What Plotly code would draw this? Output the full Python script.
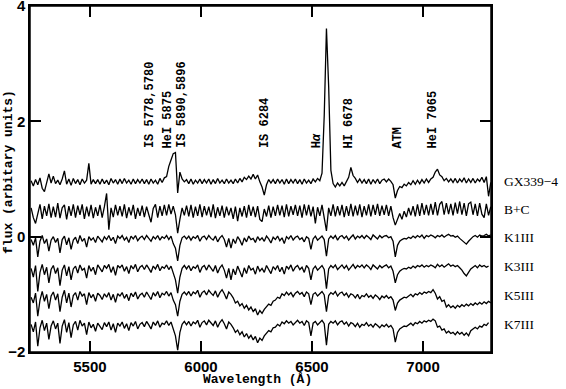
import numpy as np
import plotly.graph_objects as go

# Wavelength grid (Angstrom): 5235, 5245, ... sampled every 10 A
WL_START = 5235
WL_STEP = 10
N_POINTS = 208

GX339_4 = [
    0.97, 0.88, 0.99, 0.90, 1.02, 0.84, 0.78, 0.95, 1.09, 0.93,
    1.05, 0.92, 0.98, 0.90, 1.00, 1.14, 0.91, 1.00, 0.89, 1.01,
    0.92, 0.99, 0.90, 1.00, 0.93, 0.98, 1.27, 0.91, 0.99, 0.92,
    0.99, 0.91, 1.00, 0.92, 0.98, 0.90, 1.01, 0.93, 0.99, 0.91,
    1.00, 0.92, 1.01, 0.93, 0.98, 0.91, 1.00, 0.92, 0.99, 0.93,
    1.00, 0.92, 0.99, 0.91, 1.00, 0.93, 0.98, 0.91, 1.01, 0.94,
    1.02, 1.04, 1.22, 1.33, 1.44, 1.46, 0.76, 1.12, 1.00, 0.95,
    0.99, 0.92, 1.00, 0.91, 0.98, 0.93, 1.00, 0.92, 0.99, 0.93,
    1.00, 0.91, 0.99, 0.92, 1.01, 0.93, 0.98, 0.92, 1.00, 0.93,
    0.98, 0.92, 1.00, 0.93, 1.01, 0.95, 1.03, 0.99, 1.05, 1.00,
    1.08, 1.00, 1.07, 0.95, 0.86, 0.72, 0.90, 0.99, 0.93, 0.99,
    0.92, 1.00, 0.93, 0.99, 0.91, 1.00, 0.92, 0.99, 0.93, 1.00,
    0.92, 0.99, 0.91, 1.00, 0.93, 0.98, 0.92, 1.00, 0.95, 1.01,
    0.97, 1.10, 2.10, 3.61, 2.60, 1.15, 0.92, 0.86, 0.93, 0.88,
    0.94, 0.88, 0.95, 1.03, 1.20, 1.06, 1.01, 0.94, 1.00, 0.93,
    0.99, 0.92, 1.00, 0.91, 0.99, 0.93, 1.00, 0.92, 0.98, 1.00,
    0.95, 1.00, 0.96, 0.90, 0.67, 0.80, 0.87, 0.85, 0.91, 0.88,
    0.94, 0.90, 0.97, 0.91, 0.98, 0.92, 0.99, 0.93, 1.00, 0.94,
    1.00, 1.03, 1.12, 1.17, 1.07, 1.04, 0.97, 1.01, 0.95, 1.00,
    0.94, 1.01, 0.93, 1.00, 0.95, 1.02, 0.93, 1.00, 0.94, 1.01,
    0.93, 1.00, 0.96, 1.03, 0.94, 1.04, 0.70, 0.94,
]

B_PLUS_C = [
    0.50, 0.33, 0.23, 0.42, 0.56, 0.31, 0.53, 0.36, 0.57, 0.33,
    0.52, 0.34, 0.58, 0.32, 0.50, 0.55, 0.30, 0.53, 0.36, 0.56,
    0.33, 0.54, 0.38, 0.56, 0.31, 0.52, 0.35, 0.55, 0.32, 0.51,
    0.36, 0.55, 0.33, 0.52, 0.75, 0.12, 0.50, 0.34, 0.55, 0.37,
    0.53, 0.35, 0.56, 0.32, 0.51, 0.37, 0.55, 0.31, 0.50, 0.36,
    0.54, 0.34, 0.52, 0.38, 0.25, 0.49, 0.56, 0.33, 0.53, 0.36,
    0.55, 0.37, 0.56, 0.39, 0.53, 0.38, 0.06, 0.30, 0.50, 0.37,
    0.54, 0.35, 0.55, 0.33, 0.52, 0.36, 0.56, 0.34, 0.53, 0.37,
    0.52, 0.34, 0.56, 0.32, 0.51, 0.36, 0.54, 0.33, 0.52, 0.37,
    0.50, 0.31, 0.52, 0.27, 0.50, 0.35, 0.53, 0.33, 0.55, 0.36,
    0.52, 0.34, 0.53, 0.30, 0.26, 0.48, 0.35, 0.54, 0.33, 0.52,
    0.36, 0.55, 0.37, 0.54, 0.34, 0.56, 0.35, 0.53, 0.38, 0.55,
    0.36, 0.54, 0.33, 0.56, 0.37, 0.55, 0.35, 0.52, 0.23, 0.51,
    0.36, 0.55, 0.34, 0.10, 0.50, 0.36, 0.56, 0.35, 0.53, 0.37,
    0.55, 0.34, 0.53, 0.36, 0.57, 0.35, 0.54, 0.37, 0.56, 0.34,
    0.53, 0.37, 0.56, 0.35, 0.55, 0.38, 0.57, 0.36, 0.54, 0.38,
    0.55, 0.36, 0.53, 0.33, 0.20, 0.32, 0.40, 0.30, 0.44, 0.34,
    0.50, 0.37, 0.53, 0.35, 0.56, 0.36, 0.58, 0.38, 0.55, 0.37,
    0.57, 0.38, 0.60, 0.37, 0.56, 0.61, 0.38, 0.58, 0.39, 0.57,
    0.37, 0.59, 0.40, 0.61, 0.38, 0.58, 0.36, 0.57, 0.60, 0.38,
    0.57, 0.36, 0.58, 0.39, 0.33, 0.57, 0.37, 0.52,
]

K1III = [
    -0.05, -0.15, -0.02, -0.35, -0.08, 0.02, -0.12, -0.04, -0.25, -0.06,
    0.00, -0.10, -0.03, -0.28, -0.05, 0.01, -0.14, -0.02, -0.22, -0.06,
    -0.01, -0.12, 0.02, -0.08, -0.03, -0.18, 0.00, -0.06, -0.02, -0.10,
    0.01, -0.04, -0.09, 0.00, -0.05, 0.02, -0.07, -0.01, -0.12, 0.01,
    -0.03, 0.02, -0.06, -0.01, -0.10, 0.01, -0.04, 0.02, -0.07, -0.02,
    0.01, -0.05, 0.02, -0.03, -0.08, 0.00, -0.04, 0.02, -0.06, 0.00,
    -0.03, 0.02, -0.05, 0.01, -0.12, -0.20, -0.42, -0.15, -0.02, 0.01,
    -0.04, 0.01, -0.06, 0.00, -0.03, 0.02, -0.08, -0.01, 0.01, -0.05,
    0.02, -0.03, -0.06, 0.01, -0.09, -0.02, 0.02, -0.05, -0.18, -0.03,
    -0.20, -0.04, -0.12, 0.00, -0.06, -0.15, -0.02, -0.09, 0.01, -0.05,
    -0.03, -0.10, 0.00, -0.06, -0.02, -0.08, 0.01, -0.04, -0.11, -0.01,
    -0.05, 0.01, -0.07, -0.02, -0.12, 0.00, -0.04, 0.02, -0.06, -0.01,
    0.01, -0.05, -0.02, -0.09, 0.00, -0.03, -0.22, -0.04, 0.01, -0.06,
    -0.02, 0.01, -0.05, -0.34, -0.04, 0.01, -0.03, 0.02, -0.06, 0.00,
    0.02, -0.03, 0.01, -0.06, -0.01, 0.03, -0.04, 0.01, -0.02, 0.02,
    -0.03, 0.02, -0.01, -0.05, 0.03, 0.00, -0.04, 0.02, -0.02, 0.01,
    0.02, -0.02, 0.00, -0.08, -0.35, -0.15, -0.08, -0.05, -0.03, -0.04,
    -0.01, -0.03, 0.01, -0.02, 0.02, -0.01, 0.03, -0.03, 0.02, 0.00,
    0.03, 0.01, -0.02, 0.02, 0.00, 0.03, -0.01, 0.02, 0.04, 0.01,
    0.02, -0.01, 0.01, -0.03, -0.06, -0.10, -0.13, -0.08, -0.04, 0.00,
    0.02, -0.01, 0.03, 0.01, 0.02, 0.04, 0.01, 0.03,
]

K3III = [
    -0.55, -0.70, -0.50, -0.95, -0.62, -0.48, -0.66, -0.53, -0.80, -0.57,
    -0.50, -0.64, -0.54, -0.85, -0.58, -0.49, -0.68, -0.52, -0.75, -0.56,
    -0.51, -0.63, -0.49, -0.58, -0.55, -0.72, -0.50, -0.60, -0.53, -0.66,
    -0.49, -0.56, -0.61, -0.50, -0.55, -0.48, -0.62, -0.52, -0.67, -0.50,
    -0.54, -0.49, -0.60, -0.52, -0.64, -0.50, -0.56, -0.48, -0.61, -0.53,
    -0.50, -0.57, -0.49, -0.55, -0.62, -0.51, -0.56, -0.48, -0.59, -0.52,
    -0.55, -0.49, -0.57, -0.51, -0.64, -0.75, -0.98, -0.70, -0.55, -0.50,
    -0.56, -0.50, -0.59, -0.52, -0.55, -0.49, -0.62, -0.53, -0.50, -0.58,
    -0.49, -0.55, -0.60, -0.50, -0.63, -0.54, -0.49, -0.58, -0.72, -0.55,
    -0.75, -0.56, -0.66, -0.51, -0.60, -0.70, -0.54, -0.64, -0.50, -0.58,
    -0.55, -0.65, -0.51, -0.60, -0.55, -0.62, -0.50, -0.57, -0.64, -0.52,
    -0.57, -0.50, -0.61, -0.53, -0.65, -0.51, -0.56, -0.49, -0.60, -0.53,
    -0.50, -0.57, -0.53, -0.62, -0.50, -0.55, -0.75, -0.56, -0.51, -0.58,
    -0.54, -0.50, -0.57, -0.90, -0.56, -0.50, -0.54, -0.49, -0.57, -0.52,
    -0.49, -0.55, -0.50, -0.58, -0.52, -0.48, -0.55, -0.50, -0.53, -0.49,
    -0.54, -0.49, -0.52, -0.57, -0.49, -0.52, -0.56, -0.50, -0.54, -0.51,
    -0.49, -0.54, -0.51, -0.60, -0.80, -0.66, -0.60, -0.57, -0.55, -0.56,
    -0.53, -0.55, -0.51, -0.54, -0.50, -0.52, -0.49, -0.53, -0.50, -0.52,
    -0.49, -0.51, -0.54, -0.48, -0.52, -0.49, -0.53, -0.50, -0.47, -0.51,
    -0.49, -0.52, -0.50, -0.54, -0.58, -0.64, -0.68, -0.62, -0.56, -0.53,
    -0.50, -0.54, -0.49, -0.52, -0.50, -0.53, -0.51,
]

K5III = [
    -1.05, -1.15, -0.98, -1.38, -1.10, -0.95, -1.12, -1.00, -1.25, -1.03,
    -0.96, -1.10, -0.99, -1.30, -1.05, -0.93, -1.15, -0.98, -1.22, -1.02,
    -0.97, -1.10, -0.95, -1.03, -0.99, -1.18, -0.97, -1.06, -1.00, -1.12,
    -0.98, -1.02, -1.09, -0.99, -1.05, -0.97, -1.10, -1.00, -1.14, -0.99,
    -1.03, -0.97, -1.07, -1.00, -1.11, -0.98, -1.04, -0.96, -1.08, -1.01,
    -0.98, -1.05, -0.96, -1.02, -1.09, -0.97, -1.03, -0.95, -1.06, -0.98,
    -1.01, -0.95, -1.03, -0.97, -1.10, -1.18, -1.38, -1.12, -1.00, -0.96,
    -1.01, -0.95, -1.03, -0.96, -0.99, -0.93, -1.05, -0.97, -0.94, -1.01,
    -0.93, -0.98, -1.02, -0.94, -1.05, -0.97, -0.92, -0.99, -1.08, -0.96,
    -1.00, -1.06, -1.15, -1.12, -1.20, -1.16, -1.24, -1.19, -1.27, -1.22,
    -1.30, -1.25, -1.36, -1.28, -1.33, -1.26, -1.22, -1.17, -1.19, -1.12,
    -1.10, -1.05, -1.07, -0.99, -1.02, -0.96, -1.01, -0.97, -1.04, -0.98,
    -0.95, -1.00, -0.97, -1.04, -0.96, -0.99, -1.18, -1.00, -0.97, -1.03,
    -0.99, -0.95, -1.01, -1.30, -1.02, -0.97, -1.00, -0.95, -1.03, -0.98,
    -0.96, -1.02, -0.98, -1.05, -0.99, -1.01, -1.06, -1.00, -1.08, -1.02,
    -1.04, -0.99, -1.05, -1.02, -1.07, -1.01, -1.04, -1.09, -1.03, -1.06,
    -1.02, -1.07, -1.04, -1.10, -1.28, -1.15, -1.10, -1.08, -1.05, -1.06,
    -1.03, -1.00, -1.04, -0.99, -1.01, -0.97, -1.00, -0.96, -0.98, -0.95,
    -0.97, -0.92, -0.98, -1.08, -1.04, -1.12, -1.10, -1.22, -1.18, -1.23,
    -1.20, -1.24, -1.19, -1.22, -1.18, -1.21, -1.17, -1.20, -1.16, -1.19,
    -1.15, -1.18, -1.14, -1.17, -1.13, -1.16, -1.12, -1.15,
]

K7III = [
    -1.52, -1.65, -1.48, -1.90, -1.58, -1.45, -1.63, -1.50, -1.78, -1.55,
    -1.46, -1.60, -1.50, -1.85, -1.55, -1.44, -1.66, -1.49, -1.75, -1.53,
    -1.47, -1.62, -1.45, -1.55, -1.50, -1.70, -1.48, -1.58, -1.52, -1.64,
    -1.50, -1.55, -1.61, -1.49, -1.56, -1.48, -1.62, -1.51, -1.66, -1.50,
    -1.55, -1.48, -1.59, -1.51, -1.63, -1.49, -1.55, -1.47, -1.60, -1.52,
    -1.49, -1.56, -1.47, -1.53, -1.60, -1.48, -1.54, -1.46, -1.57, -1.50,
    -1.52, -1.46, -1.54, -1.48, -1.62, -1.72, -1.97, -1.66, -1.52, -1.47,
    -1.53, -1.47, -1.55, -1.48, -1.51, -1.45, -1.57, -1.49, -1.46, -1.53,
    -1.45, -1.50, -1.54, -1.46, -1.57, -1.49, -1.44, -1.51, -1.60, -1.48,
    -1.52, -1.58, -1.66, -1.62, -1.70, -1.65, -1.74, -1.68, -1.76, -1.71,
    -1.79, -1.73, -1.84, -1.76, -1.80, -1.72, -1.68, -1.63, -1.65, -1.58,
    -1.57, -1.52, -1.55, -1.48, -1.51, -1.46, -1.50, -1.47, -1.53, -1.48,
    -1.45, -1.50, -1.47, -1.54, -1.46, -1.49, -1.72, -1.50, -1.47, -1.53,
    -1.49, -1.45, -1.51, -1.88, -1.52, -1.47, -1.50, -1.46, -1.53, -1.48,
    -1.46, -1.52, -1.48, -1.55, -1.49, -1.51, -1.56, -1.50, -1.57, -1.52,
    -1.54, -1.49, -1.55, -1.52, -1.57, -1.51, -1.54, -1.58, -1.53, -1.56,
    -1.52, -1.57, -1.54, -1.60, -1.83, -1.66, -1.60, -1.57, -1.55, -1.56,
    -1.53, -1.50, -1.54, -1.49, -1.51, -1.47, -1.50, -1.46, -1.48, -1.45,
    -1.47, -1.43, -1.46, -1.57, -1.55, -1.62, -1.60, -1.67, -1.64, -1.68,
    -1.66, -1.70, -1.65, -1.69, -1.66, -1.71, -1.67, -1.72, -1.63, -1.60,
    -1.57, -1.60, -1.55, -1.57, -1.52, -1.54, -1.49,
]

SPECTRA = [
    ("GX339\u22124", GX339_4),
    ("B+C", B_PLUS_C),
    ("K1III", K1III),
    ("K3III", K3III),
    ("K5III", K5III),
    ("K7III", K7III),
]
LABEL_LEVELS = [0.95, 0.47, -0.02, -0.52, -1.02, -1.52]

LINE_LABELS = ["IS 5778,5780", "HeI 5875", "IS 5890,5896", "IS 6284",
               "H<i>\u03b1</i>", "HI 6678", "ATM", "HeI 7065"]
LINE_LABEL_WL = [5770, 5853, 5917, 6288, 6521, 6668, 6889, 7046]

X_TICKS = [5500, 6000, 6500, 7000]
Y_TICKS = [-2, 0, 2, 4]
X_RANGE = [5230, 7306]
Y_RANGE = [-2, 4]

wl = WL_START + WL_STEP * np.arange(N_POINTS)

fig = go.Figure()
for name, vals in SPECTRA:
    fig.add_trace(go.Scatter(
        x=wl[:len(vals)], y=vals, mode="lines", name=name,
        line=dict(color="black", width=1.3), showlegend=False,
        hoverinfo="skip"))

mono = dict(family="Liberation Mono", size=12, color="black")
for txt, w in zip(LINE_LABELS, LINE_LABEL_WL):
    fig.add_annotation(x=w, y=1.50, xref="x", yref="y", text="<b>" + txt + "</b>",
                       textangle=-90, showarrow=False, xanchor="center",
                       yanchor="bottom", font=mono)

serif = dict(family="Liberation Serif", size=13.5, color="black")
for (name, _), lev in zip(SPECTRA, LABEL_LEVELS):
    fig.add_annotation(x=1.0245, y=lev, xref="paper", yref="y", text=name,
                       showarrow=False, xanchor="left", yanchor="middle",
                       font=serif)

title_font = dict(family="Liberation Mono", size=13, color="black")
fig.add_annotation(x=0.4935, y=-0.08, xref="paper", yref="paper",
                   text="<b>Wavelength (\u00c5)</b>", showarrow=False,
                   xanchor="center", yanchor="middle", font=title_font)
fig.add_annotation(x=-0.048, y=0.52, xref="paper", yref="paper",
                   text="<b>flux (arbitary units)</b>", showarrow=False, textangle=-90,
                   xanchor="center", yanchor="middle", font=title_font)

# plot frame
fig.add_shape(type="rect", xref="paper", yref="paper", x0=0, y0=0, x1=1, y1=1,
              line=dict(color="black", width=1.5), layer="above")

tickfont = dict(family="Liberation Sans", size=15, color="black")
axis_common = dict(showline=True, linecolor="black", linewidth=1.5, mirror="ticks",
                   ticks="inside", ticklen=11, tickwidth=1.5, tickcolor="black",
                   showgrid=False, zeroline=False, tickfont=tickfont,
                   ticklabeloverflow="allow", automargin=False)

fig.update_layout(
    width=566, height=389,
    margin=dict(l=30, r=75, t=6, b=37),
    paper_bgcolor="white", plot_bgcolor="white",
    xaxis=dict(range=X_RANGE, tickmode="array", tickvals=X_TICKS,
               ticktext=["<b>%d</b>" % v for v in X_TICKS], **axis_common),
    yaxis=dict(range=Y_RANGE, tickmode="array", tickvals=Y_TICKS,
               ticktext=["<b>%s</b>" % ("\u2212%d" % -v if v < 0 else "%d" % v) for v in Y_TICKS],
               **axis_common),
)

fig.write_html("out.html", config={"displayModeBar": False},
               post_script="document.body.style.margin='0px';document.body.style.overflow='hidden';")
